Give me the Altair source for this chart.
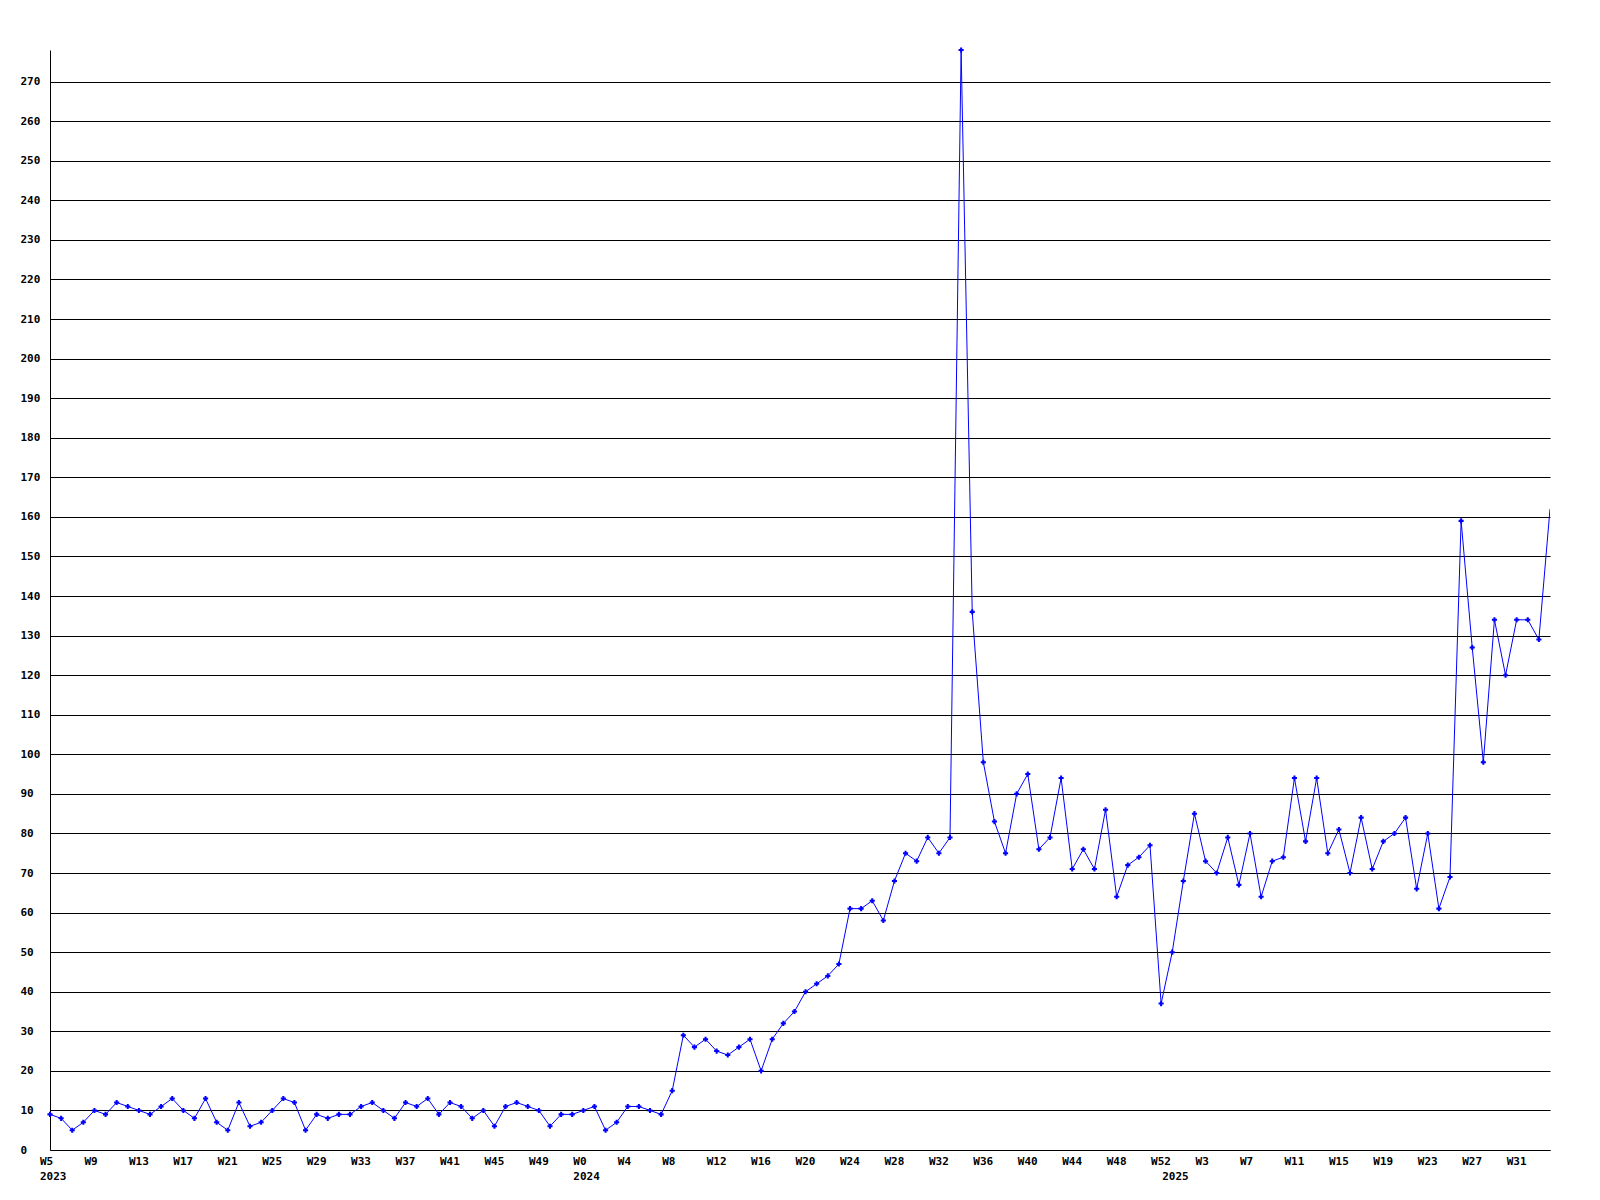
import json
import altair as alt
import pandas as pd

# Weekly values
values_2023 = [9, 8, 5, 7, 10, 9, 12, 11, 10, 9, 11, 13, 10, 8, 13, 7, 5, 12, 6, 7,
               10, 13, 12, 5, 9, 8, 9, 9, 11, 12, 10, 8, 12, 11, 13, 9, 12, 11, 8, 10,
               6, 11, 12, 11, 10, 6, 9, 9]            # W5..W52
values_2024 = [10, 11, 5, 7, 11, 11, 10, 9, 15, 29, 26, 28, 25, 24, 26, 28, 20, 28, 32, 35,
               40, 42, 44, 47, 61, 61, 63, 58, 68, 75, 73, 79, 75, 79, 278, 136, 98, 83, 75, 90,
               95, 76, 79, 94, 71, 76, 71, 86, 64, 72, 74, 77, 37]   # W0..W52
values_2025 = [50, 68, 85, 73, 70, 79, 67, 80, 64, 73, 74, 94, 78, 94, 75, 81, 70, 84, 71, 78,
               80, 84, 66, 80, 61, 69, 159, 127, 98, 134, 120, 134, 134, 129, 162]  # W0..W34
years = ["2023", "2024", "2025"]
first_weeks = [5, 0, 0]
y_ticks = list(range(0, 280, 10))

series = [values_2023, values_2024, values_2025]
rows = []
labels = []
year_start_idx = []
i = 0
for yr, w0, vals in zip(years, first_weeks, series):
    year_start_idx.append(i)
    for k, v in enumerate(vals):
        rows.append({"idx": i, "value": v, "week": f"W{w0 + k}", "year": yr})
        labels.append(f"W{w0 + k}")
        i += 1
n = len(rows)
df = pd.DataFrame(rows)

tick_idx = list(range(0, n, 4))
label_arr = []
for j in range(n):
    lab = labels[j] if j % 4 == 0 else " "
    if j in year_start_idx:
        label_arr.append([lab, years[year_start_idx.index(j)]])
    else:
        label_arr.append(lab)
tick_vals = sorted(set(tick_idx + year_start_idx))
label_expr = json.dumps(label_arr) + "[datum.value]"

FONT = "DejaVu Sans Mono"
BLUE = "#0000FF"

x_enc = alt.X(
    "idx:Q",
    scale=alt.Scale(domain=[0, n - 1], nice=False, zero=False),
    axis=alt.Axis(
        values=tick_vals, labelExpr=label_expr, title=None, grid=False, ticks=False,
        domainColor="black", domainWidth=1, labelAlign="left", labelBaseline="top",
        labelOffset=-10.5, labelPadding=5, labelLineHeight=15, labelOverlap=False,
        labelFont=FONT, labelFontSize=11, labelFontWeight="bold", labelColor="black",
        labelFlush=False,
    ),
)
y_enc = alt.Y(
    "value:Q",
    scale=alt.Scale(domain=[0, 278], nice=False, zero=True),
    axis=alt.Axis(
        values=y_ticks, title=None, grid=True, gridColor="black", gridOpacity=1,
        gridWidth=1, ticks=False, domainColor="black", domainWidth=1,
        labelAlign="left", labelBaseline="middle", labelPadding=30,
        labelFont=FONT, labelFontSize=11, labelFontWeight="bold", labelColor="black",
        labelFlush=False,
    ),
)

base = alt.Chart(df)
line = base.mark_line(color=BLUE, strokeWidth=1, clip=True).encode(x=x_enc, y=y_enc)
pts = base.transform_filter(f"datum.idx < {n - 1}").mark_point(
    shape="cross", filled=True, size=26, color=BLUE, opacity=1
).encode(x="idx:Q", y="value:Q")

chart = (
    alt.layer(line, pts)
    .properties(
        width=1500, height=1100,
        autosize=alt.AutoSizeParams(type="none"),
        padding={"left": 42, "top": 42, "right": 40, "bottom": 50},
        background="white",
    )
    .configure_view(stroke=None)
)

chart.save("out.html", embed_options={"renderer": "svg", "actions": False})
